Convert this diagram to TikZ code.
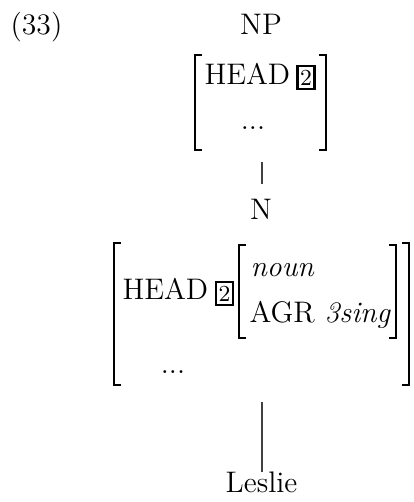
\documentclass[tikz,border=0pt]{standalone}
\begin{document}
\begin{tikzpicture}[x=0.37pt,y=-0.37pt,
  txt/.style={inner sep=0pt, anchor=base, font=\fontsize{11}{13}\selectfont},
  brk/.style={line width=0.7pt, line cap=butt, line join=miter},
  tag/.style={draw, line width=0.95pt, inner sep=0pt, minimum width=6.3pt, minimum height=8.4pt, font=\fontsize{8.5}{10}\selectfont},
  branch/.style={line width=0.45pt, draw=black!75}]
\useasboundingbox (0,0) rectangle (413,502);
\newcommand\avmL[3]{\draw[brk] (#1+7,#2) -- (#1,#2) -- (#1,#3) -- (#1+7,#3);}
\newcommand\avmR[3]{\draw[brk] (#1-7,#2) -- (#1,#2) -- (#1,#3) -- (#1-7,#3);}
% labels
\node[txt, anchor=base west] (ex) at (10,35) {(33)};
\node[txt] (np) at (261,35) {NP};
% NP AVM
\avmL{195}{55}{150}
\avmR{326}{55}{150}
\node[txt, anchor=base west] (nphead) at (204,85) {HEAD};
\node[tag] (nptag) at (306,77.5) {2};
\node[txt] (npdots) at (253,130) {...};
% branch NP - N
\coordinate (npavm) at (262,162);
\coordinate (ntop) at (262,184);
\draw[branch] (npavm) -- (ntop);
\node[txt] (n) at (261,220) {N};
% N AVM
\avmL{114}{243}{385}
\avmR{409}{243}{385}
\node[txt, anchor=base west] (nhead) at (122,300) {HEAD};
\node[tag] (ntag) at (224.5,293.5) {2};
\avmL{239}{245}{338}
\avmR{396}{245}{338}
\node[txt, anchor=base west] (noun) at (250,277) {\textit{noun}};
\node[txt, anchor=base west] (agr) at (249,322) {AGR \textit{3sing}};
\node[txt] (ndots) at (173,373) {...};
% branch N - Leslie
\coordinate (navm) at (262,402);
\coordinate (ltop) at (262,472);
\draw[branch] (navm) -- (ltop);
\node[txt] (leslie) at (261.5,492) {Leslie};
\end{tikzpicture}
\end{document}
